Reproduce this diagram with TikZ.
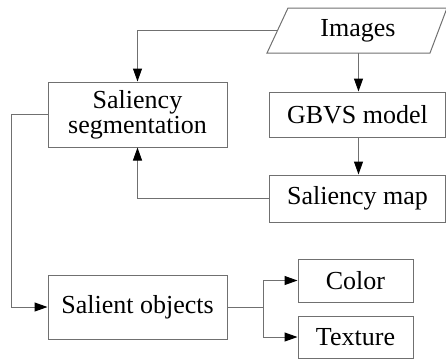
\documentclass[tikz,border=0pt]{standalone}
\usepackage{fontspec}
\setmainfont{Liberation Serif}
\usetikzlibrary{arrows.meta}
\definecolor{edge}{HTML}{707070}
\tikzset{
  box/.style={draw=edge, line width=1pt, rectangle, inner sep=2pt, align=center,
    font=\fontsize{26}{28}\selectfont},
  label/.style={inner sep=0pt, font=\fontsize{26}{28}\selectfont},
  link/.style={draw=edge, line width=1pt},
  arr/.style={link, -{Triangle[length=13pt,width=9pt,color=black]}}
}
\begin{document}
\begin{tikzpicture}[x=1pt,y=-1pt]
  \useasboundingbox (0,0) rectangle (446,360);
  % input parallelogram
  \draw[link] (267,53) coordinate (imgBL) -- (288,8) -- (447,8) -- (430,53) -- cycle;
  \node[label, minimum width=140pt, minimum height=45pt] (img) at (358,30.5) {Images};
  \coordinate (imgL) at (277.5,30);
  \coordinate (imgB) at (358.5,53);

  \node[box, minimum width=179pt, minimum height=65pt] (seg) at (137.5,114.5) {Saliency\\[-3pt]segmentation};
  \node[box, minimum width=176pt, minimum height=45pt] (gbvs) at (357.5,114.5) {GBVS model};
  \node[box, minimum width=176pt, minimum height=47pt] (map) at (357.5,198.5) {Saliency map};
  \node[box, minimum width=179pt, minimum height=64pt] (obj) at (137.5,307) {Salient objects};
  \node[box, minimum width=115pt, minimum height=43pt] (col) at (355.5,280.5) {Color};
  \node[box, minimum width=115pt, minimum height=42pt] (tex) at (355.5,337) {Texture};

  \draw[arr] (imgL) -| (seg.north);
  \draw[arr] (imgB) -- (gbvs.north -| imgB);
  \draw[arr] (gbvs.south -| imgB) -- (map.north -| imgB);
  \draw[arr] (map.west) -| (seg.south);
  \draw[arr] (seg.west) -- ++(-36,0) |- (obj.west);
  \draw[link] (obj.east) -- ++(36,0) coordinate (fork);
  \draw[arr] (fork) |- (col.west);
  \draw[arr] (fork) |- (tex.west);
\end{tikzpicture}
\end{document}
